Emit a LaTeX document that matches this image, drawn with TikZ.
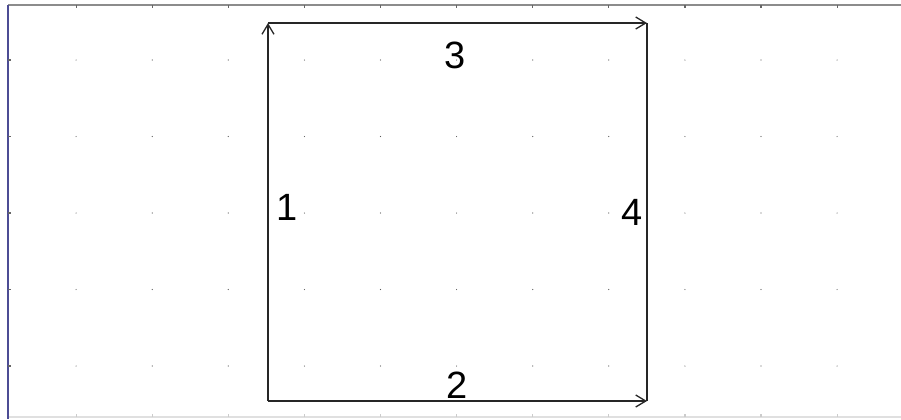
\documentclass[tikz,border=0pt]{standalone}
\usepackage{fontspec}
\setmainfont{Liberation Sans}
\usetikzlibrary{arrows.meta}
\begin{document}
\begin{tikzpicture}[x=.5pt,y=-.5pt,>={Straight Barb[length=5pt,width=6pt]},
 edge/.style={line width=.65pt,black!85},
 lbl/.style={font=\fontsize{19}{22}\selectfont,inner sep=0pt},
 dot/.style={fill=black!65}]
 \useasboundingbox (0,0) rectangle (901,419);
 % frame of the sheet
 \draw[black!45,line width=1pt] (8,5) -- (901,5);
 \draw[black!12,line width=1pt] (8,417) -- (901,417);
 \draw[blue!40!black!70,line width=1pt] (8,5) -- (8,419);
 \foreach \i in {1,...,11}{
   \draw[black!60,line width=.6pt] (\i*76.1,5) -- ++(0,3);
   \draw[black!20,line width=.6pt] (\i*76.1,417) -- ++(0,-3);
   \foreach \j in {1,...,5}
     \fill[dot] (\i*76.1,\j*76.5-16.5) circle (.6);
 }
 \foreach \j in {1,...,5}
   \draw[black!60,line width=.6pt] (8,\j*76.5-16.5) -- ++(3,0);
 % the square
 \coordinate (a) at (268,401);
 \coordinate (b) at (268,23);
 \coordinate (c) at (647,23);
 \coordinate (d) at (647,401);
 \draw[edge,->] (a) -- (b);
 \draw[edge,->] (b) -- (c);
 \draw[edge,->] (a) -- (d);
 \draw[edge] (d) -- (c);
 \node[lbl] (n1) at (287,207) {1};
 \node[lbl] (n2) at (457,385) {2};
 \node[lbl] (n3) at (455,55) {3};
 \node[lbl] (n4) at (632,212) {4};
\end{tikzpicture}
\end{document}
